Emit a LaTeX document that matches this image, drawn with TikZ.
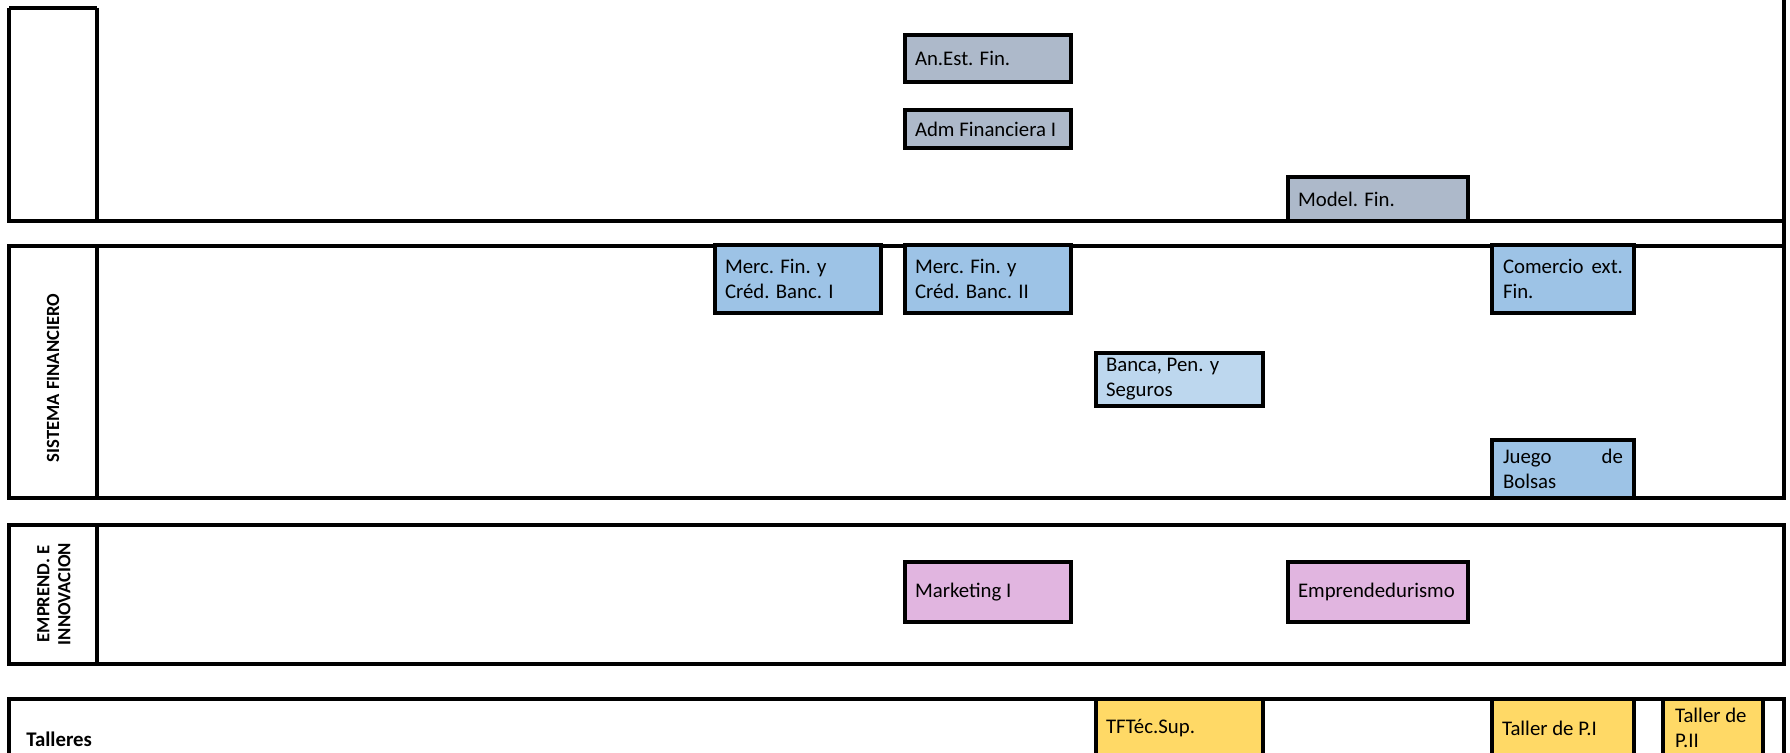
\documentclass[tikz,border=0pt]{standalone}
\usepackage{fontspec}
\setmainfont{Carlito}
\usepackage{tikz}
\usepackage{xcolor}

\definecolor{grisazul}{HTML}{ADB9CA}
\definecolor{azul}{HTML}{9DC3E6}
\definecolor{celeste}{HTML}{BDD7EE}
\definecolor{lila}{HTML}{E1B5E0}
\definecolor{amarillo}{HTML}{FFD966}

\begin{document}
\begin{tikzpicture}[x=0.5pt,y=-0.5pt,line width=1.7pt,
    caja/.style={draw=black,line width=1.7pt,rectangle,anchor=north west,
      outer sep=0pt,inner xsep=5pt,inner ysep=0pt,align=flush left,
      font=\fontsize{10.4}{12.5}\selectfont},
    area/.style={rotate=90,align=center,font=\fontsize{9.3}{10.5}\selectfont\bfseries}]
  \useasboundingbox (0,0) rectangle (1790,753);
  %% marcos de las areas
  \draw (9,8) -- (97,8);
  \draw (9,8) -- (9,221) -- (1784,221);
  \draw (97,8) -- (97,221);
  \draw (1784,0) -- (1784,498);
  \draw (9,246) rectangle (1784,498);
  \draw (97,246) -- (97,498);
  \draw (9,525) rectangle (1784,664);
  \draw (97,525) -- (97,664);
  \draw (9,760) -- (9,699) -- (1784,699) -- (1784,760);
  %%
  \begin{scope}
    \node[area] (sisfin) at (53,378) {SISTEMA FINANCIERO};
    \node[area] (emprinn) at (54,594) {EMPREND. E\\INNOVACION};
    \node[anchor=base west,font=\fontsize{10.4}{12.5}\selectfont\bfseries] (talleres) at (18,747) {Talleres};
  \end{scope}
  %% finanzas
  \begin{scope}
    \tikzstyle{every node}=[fill=grisazul]
    \node[caja,text width=73pt,minimum height=23.5pt] (anest) at (905,35) {An.Est. Fin.};
    \node[caja,text width=73pt,minimum height=19pt] (admfin) at (905,110) {Adm Financiera I};
    \node[caja,text width=80pt,minimum height=22pt] (modfin) at (1288,177) {Model. Fin.};
  \end{scope}
  %% sistema financiero
  \begin{scope}
    \tikzstyle{every node}=[fill=azul]
    \node[caja,text width=73pt,minimum height=34pt] (mercI) at (715,245) {Merc. Fin. y\\Créd. Banc. I};
    \node[caja,text width=73pt,minimum height=34pt] (mercII) at (905,245) {Merc. Fin. y\\Créd. Banc. II};
    \node[caja,fill=celeste,text width=73.5pt,minimum height=26.5pt] (banca) at (1096,353) {Banca, Pen. y\\Seguros};
    \node[caja,inner xsep=5.5pt,text width=60pt,minimum height=34pt] (comext) at (1492,245) {Comercio\hfill ext.\\Fin.};
    \node[caja,inner xsep=5.5pt,text width=60pt,minimum height=29pt] (juego) at (1492,440) {Juego\hfill de\\Bolsas};
  \end{scope}
  %% emprendimiento
  \begin{scope}
    \tikzstyle{every node}=[fill=lila]
    \node[caja,text width=73pt,minimum height=30pt] (mark) at (905,562) {Marketing I};
    \node[caja,text width=80pt,minimum height=30pt] (empren) at (1288,562) {Emprendedurismo};
  \end{scope}
  %% talleres
  \begin{scope}
    \tikzstyle{every node}=[fill=amarillo]
    \node[caja,text width=73.5pt,minimum height=29pt] (tft) at (1096,699) {TFTéc.Sup.};
    \node[caja,text width=61pt,minimum height=29pt] (tallerI) at (1492,699) {Taller de P.I};
    \node[caja,inner xsep=6pt,text width=38pt,minimum height=29pt] (tallerII) at (1663,699) {Taller de\\P.II};
  \end{scope}
\end{tikzpicture}
\end{document}
